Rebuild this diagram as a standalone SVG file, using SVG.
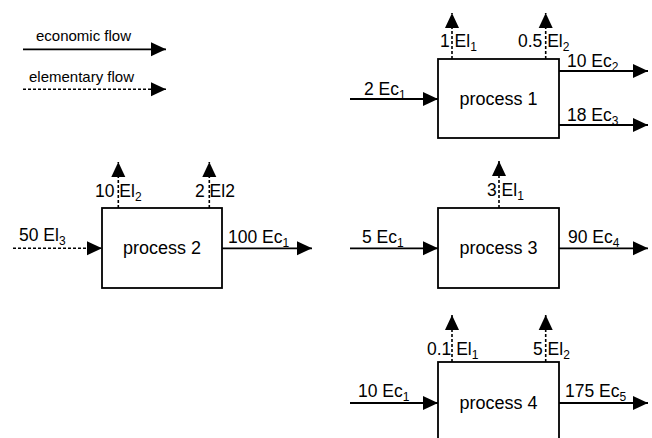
<svg xmlns="http://www.w3.org/2000/svg" width="652" height="438" viewBox="0 0 652 438">
<style>
text{font-family:"Liberation Sans",Arial,sans-serif;fill:#000;}
.lbl{font-size:17.5px;}
.leg{font-size:15px;}
.sub{font-size:12px;}
.box{fill:#fff;stroke:#000;stroke-width:1.8;}
.eco{stroke:#000;stroke-width:1.8;fill:none;}
.ele{stroke:#000;stroke-width:1.6;fill:none;stroke-dasharray:3 2;}
.pt{font-size:18px;text-anchor:middle;}
</style>
<defs>
<marker id="ah" markerUnits="userSpaceOnUse" markerWidth="16" markerHeight="15" refX="15" refY="7" orient="auto" overflow="visible">
<path d="M0,0 L15,7 L0,14 Z" fill="#000"/>
</marker>
</defs>
<g id="legend">
<text class="leg" x="36" y="41">economic flow</text>
<text class="leg" x="29" y="82">elementary flow</text>
</g>
<g id="connectors">
<line class="eco" x1="23" y1="49.3" x2="166" y2="49.3" marker-end="url(#ah)"/>
<line class="ele" x1="23" y1="89.3" x2="166" y2="89.3" marker-end="url(#ah)"/>
<line class="eco" x1="350" y1="99" x2="438" y2="99" marker-end="url(#ah)"/>
<line class="ele" x1="452" y1="59" x2="452" y2="13" marker-end="url(#ah)"/>
<line class="ele" x1="545.7" y1="59" x2="545.7" y2="13" marker-end="url(#ah)"/>
<line class="eco" x1="559" y1="71" x2="648" y2="71" marker-end="url(#ah)"/>
<line class="eco" x1="559" y1="125" x2="648" y2="125" marker-end="url(#ah)"/>
<line class="ele" x1="13" y1="248.3" x2="102" y2="248.3" marker-end="url(#ah)"/>
<line class="ele" x1="118.3" y1="208" x2="118.3" y2="162" marker-end="url(#ah)"/>
<line class="ele" x1="209.3" y1="208" x2="209.3" y2="162" marker-end="url(#ah)"/>
<line class="eco" x1="222" y1="248.3" x2="312" y2="248.3" marker-end="url(#ah)"/>
<line class="eco" x1="350" y1="248.3" x2="438" y2="248.3" marker-end="url(#ah)"/>
<line class="ele" x1="499" y1="208" x2="499" y2="161" marker-end="url(#ah)"/>
<line class="eco" x1="559" y1="248.3" x2="648" y2="248.3" marker-end="url(#ah)"/>
<line class="eco" x1="350" y1="403" x2="438" y2="403" marker-end="url(#ah)"/>
<line class="ele" x1="452" y1="362" x2="452" y2="315" marker-end="url(#ah)"/>
<line class="ele" x1="545.7" y1="362" x2="545.7" y2="315" marker-end="url(#ah)"/>
<line class="eco" x1="559" y1="403" x2="648" y2="403" marker-end="url(#ah)"/>
</g>
<g id="labels">
<text class="lbl" x="364" y="95">2 Ec<tspan class="sub" dy="4">1</tspan></text>
<text class="lbl" x="440" y="47">1 El<tspan class="sub" dy="4">1</tspan></text>
<text class="lbl" x="518" y="47">0.5 El<tspan class="sub" dy="4">2</tspan></text>
<text class="lbl" x="567" y="67">10 Ec<tspan class="sub" dy="4">2</tspan></text>
<text class="lbl" x="567" y="121">18 Ec<tspan class="sub" dy="4">3</tspan></text>
<text class="lbl" x="19" y="241">50 El<tspan class="sub" dy="4">3</tspan></text>
<text class="lbl" x="95" y="197">10 El<tspan class="sub" dy="4">2</tspan></text>
<text class="lbl" x="195" y="197">2 El2</text>
<text class="lbl" x="228" y="243">100 Ec<tspan class="sub" dy="4">1</tspan></text>
<text class="lbl" x="362" y="243">5 Ec<tspan class="sub" dy="4">1</tspan></text>
<text class="lbl" x="487" y="196">3 El<tspan class="sub" dy="4">1</tspan></text>
<text class="lbl" x="568" y="243">90 Ec<tspan class="sub" dy="4">4</tspan></text>
<text class="lbl" x="358" y="397">10 Ec<tspan class="sub" dy="4">1</tspan></text>
<text class="lbl" x="427" y="355">0.1 El<tspan class="sub" dy="4">1</tspan></text>
<text class="lbl" x="533" y="355">5 El<tspan class="sub" dy="4">2</tspan></text>
<text class="lbl" x="565" y="397">175 Ec<tspan class="sub" dy="4">5</tspan></text>
</g>
<g id="process1">
<rect class="box" x="438" y="59" width="121" height="79"/>
<text class="pt" x="498.5" y="105">process 1</text>
</g>
<g id="process2">
<rect class="box" x="102" y="208" width="120" height="80"/>
<text class="pt" x="162" y="254">process 2</text>
</g>
<g id="process3">
<rect class="box" x="438" y="208" width="121" height="80"/>
<text class="pt" x="498.5" y="254">process 3</text>
</g>
<g id="process4">
<rect class="box" x="438" y="362" width="121" height="90"/>
<text class="pt" x="498.5" y="409">process 4</text>
</g>
</svg>
